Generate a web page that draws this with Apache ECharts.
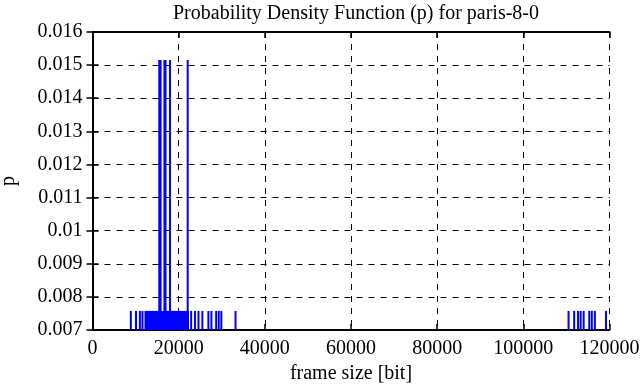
<!DOCTYPE html>
<html>
<head>
<meta charset="utf-8">
<script src="https://cdn.jsdelivr.net/npm/echarts@6/dist/echarts.min.js"></script>
<style>html,body{margin:0;padding:0;background:#fff;}#c{width:641px;height:387px;}</style>
</head>
<body>
<div id="c"></div>
<script>
// frame sizes [bit] observed once (low probability)
var shortSizes = [8900, 10100, 11000, 11600,
  12300, 12550, 12850, 13100, 13350, 13650, 13900, 14150, 14450, 14700, 14950, 15250,
  15450, 15750, 16000, 16250, 16550, 16800, 17050, 17350, 17600, 17850, 18150, 18400,
  18650, 18950, 19200, 19450, 19750, 20000, 20250, 20550, 20800, 21050, 21350, 21600, 21850, 22150,
  22900, 23800, 24600, 25500, 26900, 27600, 28700, 29300, 29900, 33200,
  110500, 111800, 112700, 113300, 114000, 115300, 115900, 116600, 119200];
// frame sizes [bit] observed twice (high probability)
var tallSizes = [15500, 15800, 16700, 16950, 18000, 22100];
var pShort = 0.007576;
var pTall = 0.015152;
var xTicks = [0, 20000, 40000, 60000, 80000, 100000, 120000];
var yTicks = [0.007, 0.008, 0.009, 0.010, 0.011, 0.012, 0.013, 0.014, 0.015, 0.016];

var data = [];
shortSizes.forEach(function (x) { data.push([x, pShort]); });
tallSizes.forEach(function (x) { data.push([x, pTall]); });

var font = 'Liberation Serif';
var fs = 20;
function yfmt(v) { return String(parseFloat(v.toFixed(3))); }
function xfmt(v) { return String(Math.round(v)); }

var chart = echarts.init(document.getElementById('c'), null, {renderer: 'canvas'});
var gridDash = {color: '#000', width: 1, type: [6, 6]};
chart.setOption({
  animation: false,
  title: {
    text: 'Probability Density Function (p) for paris-8-0',
    left: 351, top: -1, textAlign: 'center',
    textStyle: {fontFamily: font, fontSize: fs, fontWeight: 'normal', color: '#000'}
  },
  grid: {left: 92.5, right: 31.5, top: 32, bottom: 57, containLabel: false, outerBoundsMode: 'none'},
  xAxis: [{
    type: 'value', min: xTicks[0], max: xTicks[xTicks.length - 1], interval: 20000,
    name: 'frame size [bit]', nameLocation: 'middle', nameGap: 33,
    nameTextStyle: {fontFamily: font, fontSize: fs, color: '#000'},
    axisLine: {show: true, onZero: false, lineStyle: {color: '#000', width: 2}},
    axisTick: {show: true, inside: true, length: 6, lineStyle: {color: '#000', width: 1.5}},
    axisLabel: {fontFamily: font, fontSize: fs, color: '#000', margin: 9, formatter: xfmt},
    splitLine: {show: true, lineStyle: gridDash}
  }, {
    type: 'value', position: 'top', min: xTicks[0], max: xTicks[xTicks.length - 1], interval: 20000,
    axisLine: {show: true, lineStyle: {color: '#000', width: 2}},
    axisTick: {show: true, inside: true, length: 6, lineStyle: {color: '#000', width: 1.5}},
    axisLabel: {show: false}, splitLine: {show: false}
  }],
  yAxis: [{
    type: 'value', min: yTicks[0], max: yTicks[yTicks.length - 1], interval: 0.001,
    name: 'p', nameLocation: 'middle', nameGap: 74, nameRotate: 90,
    nameTextStyle: {fontFamily: font, fontSize: fs, color: '#000'},
    axisLine: {show: true, onZero: false, lineStyle: {color: '#000', width: 2}},
    axisTick: {show: true, inside: true, length: 6, lineStyle: {color: '#000', width: 1.5}},
    axisLabel: {fontFamily: font, fontSize: fs, color: '#000', margin: 10, formatter: yfmt},
    splitLine: {show: true, lineStyle: gridDash}
  }, {
    type: 'value', position: 'right', min: yTicks[0], max: yTicks[yTicks.length - 1], interval: 0.001,
    axisLine: {show: true, lineStyle: {color: '#000', width: 2}},
    axisTick: {show: true, inside: true, length: 6, lineStyle: {color: '#000', width: 1.5}},
    axisLabel: {show: false}, splitLine: {show: false}
  }],
  series: [{
    type: 'bar', xAxisIndex: 0, yAxisIndex: 0,
    data: data, barWidth: 2, clip: true,
    itemStyle: {color: '#0000ff'}
  }]
});
</script>
</body>
</html>
